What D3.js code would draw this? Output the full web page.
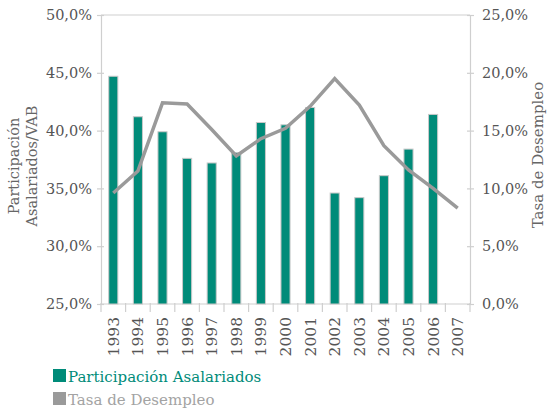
<!DOCTYPE html>
<html><head><meta charset="utf-8">
<script src="https://cdn.jsdelivr.net/npm/d3@7/dist/d3.min.js"></script>
<style>body{margin:0;background:#fff}svg{display:block}</style>
</head><body>
<svg id="c" width="547" height="408"></svg>
<script>
const years = ["1993","1994","1995","1996","1997","1998","1999","2000","2001","2002","2003","2004","2005","2006","2007"];
const participacion = [44.7,41.2,39.9,37.6,37.2,38.1,40.7,40.5,42.0,34.6,34.2,36.1,38.4,41.4,null];
const desempleo = [9.6,11.5,17.4,17.3,15.1,12.8,14.3,15.2,17.1,19.5,17.2,13.7,11.6,10.0,8.3];
const leftTicks = [25,30,35,40,45,50];
const rightTicks = [0,5,10,15,20,25];

const FONT = "DejaVu Serif";
const TEAL = "#008b79", GRAY = "#9a9a9a", AX = "#cfcfcf";
const svg = d3.select("#c");
const L = 101, R = 470, T = 15, B = 304;

const x = d3.scaleBand().domain(years).range([L, R]);
const yL = d3.scaleLinear().domain([25, 50]).range([B, T]);
const yR = d3.scaleLinear().domain([0, 25]).range([B, T]);
const fmt = d => d3.format(".1f")(d).replace(".", ",") + "%";

svg.append("line").attr("x1", L).attr("x2", R).attr("y1", T).attr("y2", T).attr("stroke", AX).attr("stroke-width", 1.2);

const gL = svg.append("g").attr("transform", `translate(${L},0)`)
  .call(d3.axisLeft(yL).tickValues(leftTicks).tickFormat(fmt).tickSize(4).tickPadding(5));
const gR = svg.append("g").attr("transform", `translate(${R},0)`)
  .call(d3.axisRight(yR).tickValues(rightTicks).tickFormat(fmt).tickSize(4).tickPadding(8));
[gL, gR].forEach(g => {
  g.attr("font-family", null).attr("font-size", null);
  g.select(".domain").attr("stroke", AX).attr("stroke-width", 1.2);
  g.selectAll(".tick line").attr("stroke", AX).attr("stroke-width", 1.2);
  g.selectAll(".tick text").attr("fill", "#555").attr("font-family", FONT).attr("font-size", "14.5px");
});
gR.selectAll(".tick line").attr("x1", -3);
gL.selectAll(".tick line").attr("x1", 3).attr("x2", -4);

const gB = svg.append("g").attr("transform", `translate(0,${B})`);
gB.append("line").attr("x1", L).attr("x2", R).attr("stroke", AX).attr("stroke-width", 1.2);
const bounds = years.map(d => x(d)).concat([x(years[years.length-1]) + x.bandwidth()]);
gB.selectAll("line.tk").data(bounds).join("line").attr("class","tk")
  .attr("x1", d => d).attr("x2", d => d).attr("y1", -1).attr("y2", 8)
  .attr("stroke", AX).attr("stroke-width", 1.2);
gB.selectAll("text").data(years).join("text")
  .attr("transform", d => `translate(${x(d) + x.bandwidth()/2},13) rotate(-90)`)
  .attr("text-anchor", "end").attr("dy", "0.35em")
  .attr("fill", "#555").attr("font-family", FONT).attr("font-size", "15.5px")
  .text(d => d);

const bw = x.bandwidth() * 0.37;
svg.append("g").selectAll("rect").data(years.map((d,i)=>({y:d,v:participacion[i]})).filter(d => d.v != null))
  .join("rect")
  .attr("x", d => x(d.y) + x.bandwidth()/2 - bw/2)
  .attr("width", bw)
  .attr("y", d => yL(d.v))
  .attr("height", d => B - yL(d.v))
  .attr("fill", TEAL).attr("stroke", "#c9c9c9").attr("stroke-width", 1);

const line = d3.line().x((d,i) => x(years[i]) + x.bandwidth()/2).y(d => yR(d));
svg.append("path").datum(desempleo).attr("d", line)
  .attr("fill", "none").attr("stroke", GRAY).attr("stroke-width", 3.5).attr("stroke-linejoin", "miter");

const lt = svg.append("text").attr("transform", "translate(0,166) rotate(-90)")
  .attr("text-anchor", "middle").attr("fill", "#666").attr("font-family", FONT).attr("font-size", "14.5px");
lt.append("tspan").attr("x", 0).attr("y", 19).text("Participación");
lt.append("tspan").attr("x", 0).attr("y", 37).text("Asalariados/VAB");
svg.append("text").attr("transform", "translate(543,155) rotate(-90)")
  .attr("text-anchor", "middle").attr("fill", "#666").attr("font-family", FONT).attr("font-size", "15px")
  .text("Tasa de Desempleo");

const legend = [{name:"Participación Asalariados", c:TEAL, tc:TEAL},{name:"Tasa de Desempleo", c:GRAY, tc:"#a3a3a3"}];
const lg = svg.append("g").selectAll("g").data(legend).join("g")
  .attr("transform", (d,i) => `translate(53,${369 + i*23})`);
lg.append("rect").attr("width", 13).attr("height", 13).attr("fill", d => d.c);
lg.append("text").attr("x", 15).attr("y", 12.5).attr("fill", d => d.tc)
  .attr("font-family", FONT).attr("font-size", "15px").text(d => d.name);
</script>
</body></html>
